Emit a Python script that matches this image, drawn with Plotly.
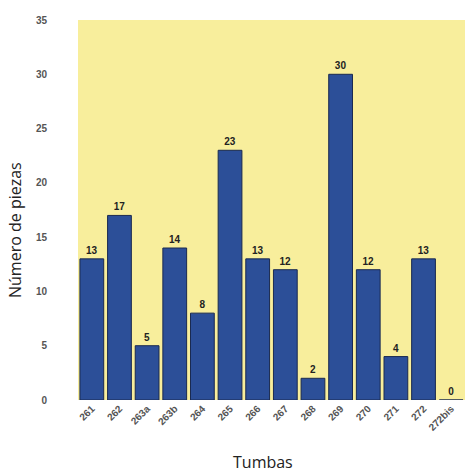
import plotly.graph_objects as go

categories = ["261", "262", "263a", "263b", "264", "265", "266", "267", "268", "269", "270", "271", "272", "272bis"]
values = [13, 17, 5, 14, 8, 23, 13, 12, 2, 30, 12, 4, 13, 0]
y_ticks = [0, 5, 10, 15, 20, 25, 30, 35]

fig = go.Figure(go.Bar(
    x=categories, y=values,
    marker=dict(color="#2C4F98", line=dict(color="#1a2a50", width=1)),
    text=["<b>%d</b>" % v for v in values], textposition="outside",
    textfont=dict(family="Liberation Sans", size=10, color="#222"),
    cliponaxis=False,
))
fig.update_layout(
    width=472, height=473,
    margin=dict(l=78, r=7, t=20, b=73),
    paper_bgcolor="white", plot_bgcolor="#F8EE9C",
    bargap=0.14, showlegend=False,
    font=dict(family="Liberation Sans"),
    annotations=[
        dict(text="Tumbas", xref="paper", yref="paper", showarrow=False,
             font=dict(family="Open Sans", size=16, color="#222")),
        dict(text="Número de piezas", xref="paper", yref="paper", showarrow=False,
             textangle=-90, font=dict(family="Open Sans", size=16, color="#222")),
    ],
)
plot_w = 472 - 78 - 7
plot_h = 473 - 20 - 73
fig.layout.annotations[0].update(x=(263 - 78) / plot_w, y=-(462 - 400) / plot_h, yanchor="middle", xanchor="center")
fig.layout.annotations[1].update(x=(15 - 78) / plot_w, y=(400 - 230) / plot_h, xanchor="center", yanchor="middle")

fig.update_xaxes(
    tickangle=-45, tickfont=dict(size=10, color="#555"),
    tickvals=categories, ticktext=["<b>%s</b>" % c for c in categories],
    showgrid=False, ticks="", showline=False, automargin=False,
)
fig.update_yaxes(
    range=[0, 35], tickvals=y_ticks, ticktext=["<b>%d</b>" % t for t in y_ticks],
    tickfont=dict(size=10, color="#555"), ticklabelstandoff=30,
    showgrid=False, zeroline=False, ticks="", showline=False, automargin=False,
)
fig.write_html("out.html", config={"displayModeBar": False},
               post_script="document.body.style.margin='0';")
